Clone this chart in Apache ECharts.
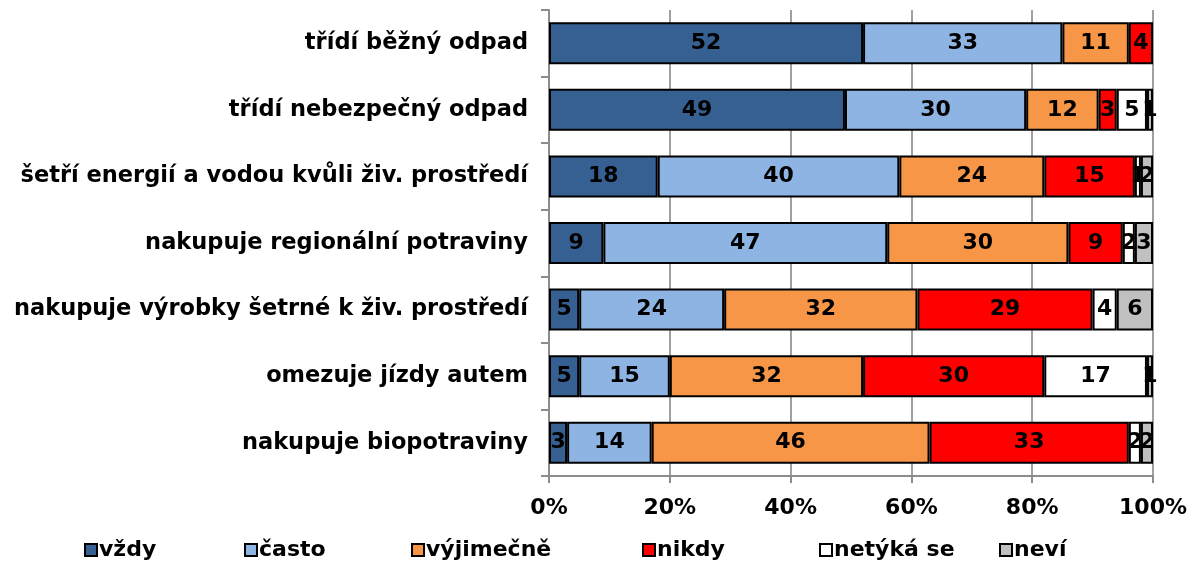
<!DOCTYPE html>
<html>
<head>
<meta charset="utf-8">
<script src="https://cdn.jsdelivr.net/npm/echarts@6/dist/echarts.min.js"></script>
<style>
  html, body { margin: 0; padding: 0; background: #fff; }
  #chart { width: 1192px; height: 565px; }
</style>
</head>
<body>
<div id="chart"></div>
<script>
// kategorie (shora dolů)
const categories = [
  'třídí běžný odpad',
  'třídí nebezpečný odpad',
  'šetří energií a vodou kvůli živ. prostředí',
  'nakupuje regionální potraviny',
  'nakupuje výrobky šetrné k živ. prostředí',
  'omezuje jízdy autem',
  'nakupuje biopotraviny'
]

// hodnoty v %
const vzdy = [52, 49, 18, 9, 5, 5, 3]
const casto = [33, 30, 40, 47, 24, 15, 14]
const vyjimecne = [11, 12, 24, 30, 32, 32, 46]
const nikdy = [4, 3, 15, 9, 29, 30, 33]
const netyka = [0, 5, 1, 2, 4, 17, 2]
const nevi = [0, 1, 2, 3, 6, 1, 2]

const seriesDefs = [
  { name: 'vždy', data: vzdy, color: '#376092' },
  { name: 'často', data: casto, color: '#8eb4e3' },
  { name: 'výjimečně', data: vyjimecne, color: '#f79646' },
  { name: 'nikdy', data: nikdy, color: '#ff0000' },
  { name: 'netýká se', data: netyka, color: '#ffffff' },
  { name: 'neví', data: nevi, color: '#c0c0c0' }
]

// levé okraje položek legendy (jako v Excelu, nerovnoměrné)
const legendLeft = [84, 244, 411, 642, 819, 999]

const font = 'Verdana, "DejaVu Sans", sans-serif'

const chart = echarts.init(document.getElementById('chart'))

const option = {
  animation: false,
  textStyle: { fontFamily: font },
  grid: {
    left: 549,
    right: 39,
    top: 10,
    bottom: 89
  },
  legend: seriesDefs.map((s, i) => ({
    top: 539,
    left: legendLeft[i],
    padding: 0,
    itemWidth: 12,
    itemHeight: 12,
    icon: 'rect',
    textStyle: {
      fontSize: 22,
      fontWeight: 'bold',
      color: '#000',
      fontFamily: font,
      padding: [0, 0, 0, -3]
    },
    data: [s.name]
  })),
  xAxis: {
    type: 'value',
    min: 0,
    max: 100,
    interval: 20,
    axisLine: { show: true, lineStyle: { color: '#8c8c8c', width: 2 } },
    axisTick: { show: true, length: 7, lineStyle: { color: '#8c8c8c', width: 2 } },
    splitLine: { show: true, lineStyle: { color: '#a0a0a0', width: 2 } },
    axisLabel: {
      formatter: '{value}%',
      fontSize: 22,
      fontWeight: 'bold',
      color: '#000',
      margin: 21
    }
  },
  yAxis: {
    type: 'category',
    inverse: true,
    data: categories,
    axisLine: { show: true, lineStyle: { color: '#8c8c8c', width: 2 } },
    axisTick: { show: true, length: 8, lineStyle: { color: '#8c8c8c', width: 2 } },
    axisLabel: {
      fontSize: 22.5,
      fontWeight: 'bold',
      color: '#000',
      margin: 21
    }
  },
  series: seriesDefs.map(s => ({
    name: s.name,
    type: 'bar',
    stack: 'total',
    barWidth: 42,
    data: s.data.map(v => (v === 0 ? '-' : v)),
    itemStyle: {
      color: s.color,
      borderColor: '#000',
      borderWidth: 2
    },
    label: {
      show: true,
      position: 'inside',
      color: '#000',
      fontSize: 22,
      fontWeight: 'bold',
      fontFamily: font
    }
  }))
}

chart.setOption(option)
</script>
</body>
</html>
